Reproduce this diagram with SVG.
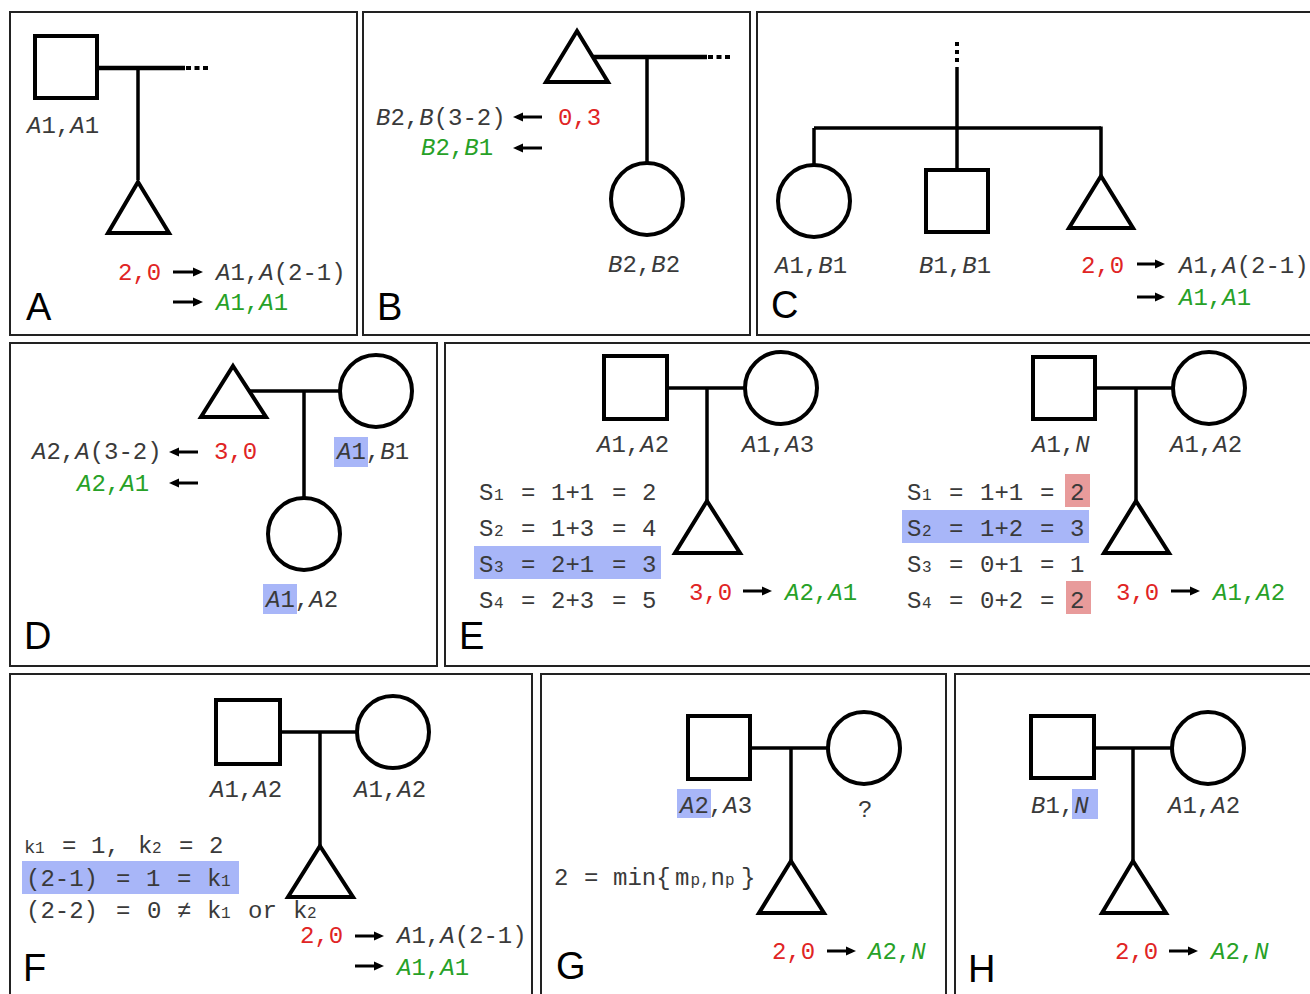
<svg xmlns="http://www.w3.org/2000/svg" width="1310" height="994" viewBox="0 0 1310 994">
  <defs>
    <marker id="ah" viewBox="0 0 10 10" refX="6" refY="5" markerWidth="10" markerHeight="10" markerUnits="userSpaceOnUse" orient="auto">
      <path d="M0,0.5 L10,5 L0,9.5 z" fill="#000"/>
    </marker>
    <style>
      .frame{fill:none;stroke:#222;stroke-width:2}
      .shape{fill:#fff;stroke:#000;stroke-width:4;stroke-linejoin:miter}
      .line{stroke:#000;stroke-width:3.5;fill:none}
      .dots{stroke:#000;stroke-width:4;stroke-dasharray:5 3.5;fill:none}
      .vdots{stroke:#000;stroke-width:4;stroke-dasharray:4 4;fill:none}
      .arrow{stroke:#000;stroke-width:3;fill:none;marker-end:url(#ah)}
      .t{font-family:"Liberation Mono","Courier New",monospace;font-size:24px;fill:#3a3a3a}
      .r{fill:#e02424}
      .g{fill:#27a127}
      .i{font-style:italic}
      .sub{font-size:16px}
      .sm{font-size:19px}
      .lab{font-family:"Liberation Sans",Arial,sans-serif;font-size:38px;fill:#000}
      .hb{fill:#a8b6f8}
      .hr{fill:#e89b9b}
    </style>
  </defs>
  <rect width="1310" height="994" fill="#fff"/>

  <!-- Panel A: father with one unknown partner, child -->
  <g id="panel-a">
    <rect class="frame" x="10" y="12" width="347" height="323"/>
    <g id="a-connectors">
      <line class="line" x1="99" y1="68" x2="185" y2="68" style="stroke-width:4.5"/>
      <line class="dots" x1="186" y1="68" x2="209" y2="68"/>
      <line class="line" x1="138" y1="68" x2="138" y2="180"/>
      <line class="arrow" x1="173" y1="272" x2="199" y2="272"/>
      <line class="arrow" x1="173" y1="302" x2="199" y2="302"/>
    </g>
    <g id="a-father">
      <rect class="shape" x="35" y="36" width="62" height="62"/>
      <text class="t" x="27" y="133"><tspan class="i">A</tspan>1,<tspan class="i">A</tspan>1</text>
    </g>
    <g id="a-child">
      <polygon class="shape" points="138,182 169,233 108,233"/>
      <text class="t r" x="118" y="280">2,0</text>
      <text class="t" x="216" y="280"><tspan class="i">A</tspan>1,<tspan class="i">A</tspan>(2-1)</text>
      <text class="t g" x="216" y="310"><tspan class="i">A</tspan>1,<tspan class="i">A</tspan>1</text>
    </g>
    <text class="lab" x="26" y="320">A</text>
  </g>

  <!-- Panel B -->
  <g id="panel-b">
    <rect class="frame" x="363" y="12" width="387" height="323"/>
    <g id="b-connectors">
      <line class="line" x1="592" y1="57" x2="707" y2="57" style="stroke-width:4.5"/>
      <line class="dots" x1="708" y1="57" x2="733" y2="57"/>
      <line class="line" x1="647" y1="57" x2="647" y2="164"/>
      <line class="arrow" x1="542" y1="117" x2="517" y2="117"/>
      <line class="arrow" x1="542" y1="148" x2="517" y2="148"/>
    </g>
    <g id="b-parent">
      <polygon class="shape" points="577,31 608,82 546,82"/>
      <text class="t r" x="558" y="125">0,3</text>
      <text class="t" x="376" y="125"><tspan class="i">B</tspan>2,<tspan class="i">B</tspan>(3-2)</text>
      <text class="t g" x="421" y="155"><tspan class="i">B</tspan>2,<tspan class="i">B</tspan>1</text>
    </g>
    <g id="b-child">
      <circle class="shape" cx="647" cy="199" r="36"/>
      <text class="t" x="608" y="272"><tspan class="i">B</tspan>2,<tspan class="i">B</tspan>2</text>
    </g>
    <text class="lab" x="377" y="320">B</text>
  </g>

  <!-- Panel C: sibship -->
  <g id="panel-c">
    <rect class="frame" x="757" y="12" width="600" height="323"/>
    <g id="c-connectors">
      <line class="vdots" x1="957" y1="42" x2="957" y2="66"/>
      <line class="line" x1="957" y1="67" x2="957" y2="169"/>
      <line class="line" x1="814" y1="128" x2="1101" y2="128"/>
      <line class="line" x1="814" y1="128" x2="814" y2="166"/>
      <line class="line" x1="1101" y1="126.5" x2="1101" y2="178"/>
      <line class="arrow" x1="1137" y1="264" x2="1161" y2="264"/>
      <line class="arrow" x1="1137" y1="297" x2="1161" y2="297"/>
    </g>
    <g id="c-sister">
      <circle class="shape" cx="814" cy="201" r="36"/>
      <text class="t" x="775" y="273"><tspan class="i">A</tspan>1,<tspan class="i">B</tspan>1</text>
    </g>
    <g id="c-brother">
      <rect class="shape" x="926" y="170" width="62" height="62"/>
      <text class="t" x="919" y="273"><tspan class="i">B</tspan>1,<tspan class="i">B</tspan>1</text>
    </g>
    <g id="c-sample">
      <polygon class="shape" points="1101,176 1133,228 1069,228"/>
      <text class="t r" x="1081" y="273">2,0</text>
      <text class="t" x="1179" y="273"><tspan class="i">A</tspan>1,<tspan class="i">A</tspan>(2-1)</text>
      <text class="t g" x="1179" y="305"><tspan class="i">A</tspan>1,<tspan class="i">A</tspan>1</text>
    </g>
    <text class="lab" x="771" y="318">C</text>
  </g>

  <!-- Panel D -->
  <g id="panel-d">
    <rect class="frame" x="10" y="343" width="427" height="323"/>
    <g id="d-connectors">
      <line class="line" x1="249" y1="391" x2="341" y2="391"/>
      <line class="line" x1="304" y1="391" x2="304" y2="499"/>
      <line class="arrow" x1="198" y1="452" x2="173" y2="452"/>
      <line class="arrow" x1="198" y1="483" x2="173" y2="483"/>
    </g>
    <g id="d-parent">
      <polygon class="shape" points="233,366 266,417 201,417"/>
      <text class="t r" x="214" y="459">3,0</text>
      <text class="t" x="32" y="459"><tspan class="i">A</tspan>2,<tspan class="i">A</tspan>(3-2)</text>
      <text class="t g" x="77" y="491"><tspan class="i">A</tspan>2,<tspan class="i">A</tspan>1</text>
    </g>
    <g id="d-mother">
      <circle class="shape" cx="376" cy="391" r="36"/>
      <rect class="hb" x="334" y="437" width="34" height="30"/>
      <text class="t" x="337" y="459"><tspan class="i">A</tspan>1,<tspan class="i">B</tspan>1</text>
    </g>
    <g id="d-child">
      <circle class="shape" cx="304" cy="534" r="36"/>
      <rect class="hb" x="263" y="584" width="34" height="30"/>
      <text class="t" x="266" y="607"><tspan class="i">A</tspan>1,<tspan class="i">A</tspan>2</text>
    </g>
    <text class="lab" x="24" y="649">D</text>
  </g>

  <!-- Panel E: two trios with allele sums -->
  <g id="panel-e">
    <rect class="frame" x="445" y="343" width="880" height="323"/>
    <g id="e-connectors">
      <line class="line" x1="667" y1="388" x2="745" y2="388"/>
      <line class="line" x1="707" y1="388" x2="707" y2="502"/>
      <line class="arrow" x1="743" y1="591" x2="768" y2="591"/>
      <line class="line" x1="1095" y1="388" x2="1173" y2="388"/>
      <line class="line" x1="1136" y1="388" x2="1136" y2="502"/>
      <line class="arrow" x1="1171" y1="591" x2="1196" y2="591"/>
    </g>
    <g id="e1-father">
      <rect class="shape" x="604" y="356" width="63" height="63"/>
      <text class="t" x="597" y="452"><tspan class="i">A</tspan>1,<tspan class="i">A</tspan>2</text>
    </g>
    <g id="e1-mother">
      <circle class="shape" cx="781" cy="388" r="36"/>
      <text class="t" x="742" y="452"><tspan class="i">A</tspan>1,<tspan class="i">A</tspan>3</text>
    </g>
    <g id="e1-child">
      <polygon class="shape" points="707,501 740,553 675,553"/>
      <text class="t r" x="689" y="600">3,0</text>
      <text class="t g" x="785" y="600"><tspan class="i">A</tspan>2,<tspan class="i">A</tspan>1</text>
    </g>
    <g id="e1-sums">
      <rect class="hb" x="474" y="546" width="187" height="33"/>
      <text class="t" y="500"><tspan x="479">S</tspan><tspan class="sub" x="494">1</tspan><tspan x="521">=</tspan><tspan x="551">1+1</tspan><tspan x="612">=</tspan><tspan x="642">2</tspan></text>
      <text class="t" y="536"><tspan x="479">S</tspan><tspan class="sub" x="494">2</tspan><tspan x="521">=</tspan><tspan x="551">1+3</tspan><tspan x="612">=</tspan><tspan x="642">4</tspan></text>
      <text class="t" y="572"><tspan x="479">S</tspan><tspan class="sub" x="494">3</tspan><tspan x="521">=</tspan><tspan x="551">2+1</tspan><tspan x="612">=</tspan><tspan x="642">3</tspan></text>
      <text class="t" y="608"><tspan x="479">S</tspan><tspan class="sub" x="494">4</tspan><tspan x="521">=</tspan><tspan x="551">2+3</tspan><tspan x="612">=</tspan><tspan x="642">5</tspan></text>
    </g>
    <g id="e2-father">
      <rect class="shape" x="1033" y="357" width="62" height="62"/>
      <text class="t" x="1032" y="452"><tspan class="i">A</tspan>1,<tspan class="i">N</tspan></text>
    </g>
    <g id="e2-mother">
      <circle class="shape" cx="1209" cy="388" r="36"/>
      <text class="t" x="1170" y="452"><tspan class="i">A</tspan>1,<tspan class="i">A</tspan>2</text>
    </g>
    <g id="e2-child">
      <polygon class="shape" points="1136,501 1169,553 1104,553"/>
      <text class="t r" x="1116" y="600">3,0</text>
      <text class="t g" x="1213" y="600"><tspan class="i">A</tspan>1,<tspan class="i">A</tspan>2</text>
    </g>
    <g id="e2-sums">
      <rect class="hr" x="1065" y="474" width="25" height="33"/>
      <rect class="hb" x="902" y="510" width="187" height="33"/>
      <rect class="hr" x="1066" y="581" width="25" height="33"/>
      <text class="t" y="500"><tspan x="907">S</tspan><tspan class="sub" x="922">1</tspan><tspan x="949">=</tspan><tspan x="980">1+1</tspan><tspan x="1040">=</tspan><tspan x="1070">2</tspan></text>
      <text class="t" y="536"><tspan x="907">S</tspan><tspan class="sub" x="922">2</tspan><tspan x="949">=</tspan><tspan x="980">1+2</tspan><tspan x="1040">=</tspan><tspan x="1070">3</tspan></text>
      <text class="t" y="572"><tspan x="907">S</tspan><tspan class="sub" x="922">3</tspan><tspan x="949">=</tspan><tspan x="980">0+1</tspan><tspan x="1040">=</tspan><tspan x="1070">1</tspan></text>
      <text class="t" y="608"><tspan x="907">S</tspan><tspan class="sub" x="922">4</tspan><tspan x="949">=</tspan><tspan x="980">0+2</tspan><tspan x="1040">=</tspan><tspan x="1070">2</tspan></text>
    </g>
    <text class="lab" x="459" y="649">E</text>
  </g>

  <!-- Panel F -->
  <g id="panel-f">
    <rect class="frame" x="10" y="674" width="522" height="330"/>
    <g id="f-connectors">
      <line class="line" x1="280" y1="732" x2="358" y2="732"/>
      <line class="line" x1="320" y1="732" x2="320" y2="847"/>
      <line class="arrow" x1="355" y1="936" x2="380" y2="936"/>
      <line class="arrow" x1="355" y1="966" x2="380" y2="966"/>
    </g>
    <g id="f-father">
      <rect class="shape" x="216" y="700" width="64" height="64"/>
      <text class="t" x="210" y="797"><tspan class="i">A</tspan>1,<tspan class="i">A</tspan>2</text>
    </g>
    <g id="f-mother">
      <circle class="shape" cx="393" cy="732" r="36"/>
      <text class="t" x="354" y="797"><tspan class="i">A</tspan>1,<tspan class="i">A</tspan>2</text>
    </g>
    <g id="f-child">
      <polygon class="shape" points="320,846 353,897 288,897"/>
      <text class="t r" x="300" y="943">2,0</text>
      <text class="t" x="397" y="943"><tspan class="i">A</tspan>1,<tspan class="i">A</tspan>(2-1)</text>
      <text class="t g" x="397" y="975"><tspan class="i">A</tspan>1,<tspan class="i">A</tspan>1</text>
    </g>
    <g id="f-repeats">
      <rect class="hb" x="22" y="861" width="217" height="33"/>
      <text class="t" y="853"><tspan class="sm" x="24">k</tspan><tspan class="sub" x="35">1</tspan><tspan x="62">=</tspan><tspan x="91">1,</tspan><tspan x="138">k</tspan><tspan class="sub" x="152">2</tspan><tspan x="179">=</tspan><tspan x="209">2</tspan></text>
      <text class="t" y="886"><tspan x="26">(2-1)</tspan><tspan x="116">=</tspan><tspan x="146">1</tspan><tspan x="177">=</tspan><tspan x="207">k</tspan><tspan class="sub" x="221">1</tspan></text>
      <text class="t" y="918"><tspan x="26">(2-2)</tspan><tspan x="116">=</tspan><tspan x="147">0</tspan><tspan x="177">≠</tspan><tspan x="207">k</tspan><tspan class="sub" x="221">1</tspan><tspan x="248">or</tspan><tspan x="293">k</tspan><tspan class="sub" x="307">2</tspan></text>
    </g>
    <text class="lab" x="23" y="981">F</text>
  </g>

  <!-- Panel G -->
  <g id="panel-g">
    <rect class="frame" x="541" y="674" width="405" height="330"/>
    <g id="g-connectors">
      <line class="line" x1="750" y1="748" x2="830" y2="748"/>
      <line class="line" x1="791" y1="748" x2="791" y2="862"/>
      <line class="arrow" x1="827" y1="951" x2="852" y2="951"/>
    </g>
    <g id="g-father">
      <rect class="shape" x="688" y="716" width="62" height="63"/>
      <rect class="hb" x="677" y="789" width="34" height="29"/>
      <text class="t" x="680" y="813"><tspan class="i">A</tspan>2,<tspan class="i">A</tspan>3</text>
    </g>
    <g id="g-mother">
      <circle class="shape" cx="864" cy="748" r="36"/>
      <text class="t" x="858" y="817">?</text>
    </g>
    <g id="g-child">
      <polygon class="shape" points="791,861 824,913 759,913"/>
      <text class="t r" x="772" y="959">2,0</text>
      <text class="t g" x="868" y="959"><tspan class="i">A</tspan>2,<tspan class="i">N</tspan></text>
    </g>
    <text class="t" y="885"><tspan x="554">2</tspan><tspan x="584">=</tspan><tspan x="613">min{</tspan><tspan x="675">m</tspan><tspan class="sub" x="690.5">p</tspan><tspan class="sub" x="700.5">,</tspan><tspan x="710.5">n</tspan><tspan class="sub" x="725">p</tspan><tspan x="741">}</tspan></text>
    <text class="lab" x="556" y="979">G</text>
  </g>

  <!-- Panel H -->
  <g id="panel-h">
    <rect class="frame" x="955" y="674" width="400" height="330"/>
    <g id="h-connectors">
      <line class="line" x1="1094" y1="748" x2="1174" y2="748"/>
      <line class="line" x1="1133" y1="748" x2="1133" y2="862"/>
      <line class="arrow" x1="1169" y1="951" x2="1194" y2="951"/>
    </g>
    <g id="h-father">
      <rect class="shape" x="1031" y="716" width="63" height="62"/>
      <rect class="hb" x="1072" y="789" width="26" height="30"/>
      <text class="t" x="1031" y="813"><tspan class="i">B</tspan>1,<tspan class="i">N</tspan></text>
    </g>
    <g id="h-mother">
      <circle class="shape" cx="1208" cy="748" r="36"/>
      <text class="t" x="1168" y="813"><tspan class="i">A</tspan>1,<tspan class="i">A</tspan>2</text>
    </g>
    <g id="h-child">
      <polygon class="shape" points="1133,861 1166,913 1102,913"/>
      <text class="t r" x="1115" y="959">2,0</text>
      <text class="t g" x="1211" y="959"><tspan class="i">A</tspan>2,<tspan class="i">N</tspan></text>
    </g>
    <text class="lab" x="968" y="982">H</text>
  </g>
</svg>
